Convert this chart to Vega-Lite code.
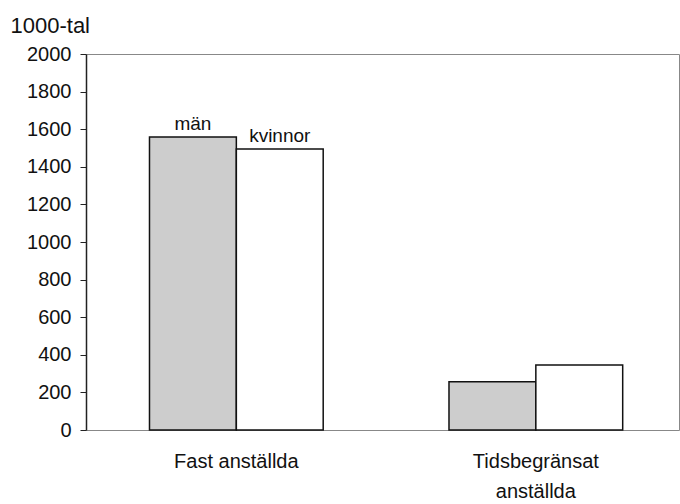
{
  "$schema": "https://vega.github.io/schema/vega-lite/v6.json",
  "width": 593,
  "height": 376,
  "autosize": {"type": "none"},
  "padding": {"left": 86, "top": 54, "right": 1, "bottom": 74},
  "background": "white",
  "config": {
    "font": "Liberation Sans",
    "view": {"stroke": "#888888", "strokeWidth": 1}
  },
  "data": {
    "values": [
      {"kategori": "Fast anställda", "kon": "män", "antal": 1558, "etikett": "män"},
      {"kategori": "Fast anställda", "kon": "kvinnor", "antal": 1495, "etikett": "kvinnor"},
      {"kategori": "Tidsbegränsat anställda", "kon": "män", "antal": 257, "etikett": ""},
      {"kategori": "Tidsbegränsat anställda", "kon": "kvinnor", "antal": 346, "etikett": ""}
    ]
  },
  "encoding": {
    "x": {
      "field": "kategori",
      "type": "nominal",
      "sort": null,
      "scale": {"paddingInner": 0.42, "paddingOuter": 0.2, "align": 0.53},
      "axis": {
        "title": null,
        "labelAngle": 0,
        "ticks": false,
        "domain": false,
        "labelFontSize": 20,
        "labelColor": "#111111",
        "labelPadding": 21,
        "labelLineHeight": 30,
        "labelExpr": "datum.value == 'Tidsbegränsat anställda' ? ['Tidsbegränsat', 'anställda'] : datum.value"
      }
    },
    "xOffset": {
      "field": "kon",
      "type": "nominal",
      "sort": ["män", "kvinnor"],
      "scale": {"paddingInner": 0, "paddingOuter": 0}
    },
    "y": {
      "field": "antal",
      "type": "quantitative",
      "scale": {"domain": [0, 2000], "nice": false},
      "axis": {
        "values": [0, 200, 400, 600, 800, 1000, 1200, 1400, 1600, 1800, 2000],
        "format": "d",
        "grid": false,
        "domainColor": "#222222",
        "domainWidth": 1.5,
        "tickColor": "#222222",
        "tickSize": 6,
        "labelFontSize": 20,
        "labelColor": "#111111",
        "labelPadding": 9,
        "title": "1000-tal",
        "titleAngle": 0,
        "titleAlign": "left",
        "titleBaseline": "alphabetic",
        "titleX": -76,
        "titleY": -22,
        "titleFontSize": 22,
        "titleFontWeight": "normal",
        "titleColor": "#111111"
      }
    }
  },
  "layer": [
    {
      "mark": {"type": "bar", "stroke": "#111111", "strokeWidth": 1.5},
      "encoding": {
        "fill": {
          "field": "kon",
          "type": "nominal",
          "scale": {"domain": ["män", "kvinnor"], "range": ["#cdcdcd", "#ffffff"]},
          "legend": null
        }
      }
    },
    {
      "mark": {"type": "text", "baseline": "bottom", "dy": -3, "fontSize": 19, "color": "#111111"},
      "encoding": {
        "text": {"field": "etikett", "type": "nominal"}
      }
    }
  ]
}
